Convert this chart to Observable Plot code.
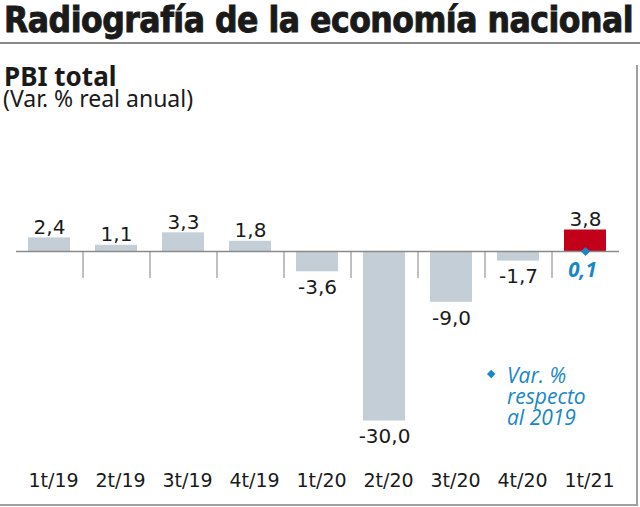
<!DOCTYPE html>
<html>
<head>
<meta charset="utf-8">
<script src="https://cdn.jsdelivr.net/npm/d3@7"></script>
<script src="https://cdn.jsdelivr.net/npm/@observablehq/plot@0.6"></script>
<style>
  html, body { margin: 0; padding: 0; background: #fff; }
  #wrap { position: relative; width: 640px; height: 507px; overflow: hidden; background: #fff; }
  #title { position: absolute; left: 4px; top: 2px; white-space: nowrap; line-height: 36px; height: 36px;
    font-family: "DejaVu Sans Condensed", "DejaVu Sans", sans-serif; font-weight: bold;
    font-size: 36px; color: #1a1a1a; transform-origin: 0 0; letter-spacing: -0.5px;
    -webkit-text-stroke: 0.9px #1a1a1a; }
  #rule { position: absolute; left: 0; top: 42px; width: 640px; height: 2px; background: #8a8a8a; }
  #box { position: absolute; left: -2px; top: 65px; width: 638px; height: 439px;
    border-right: 2px solid #a0a0a0; border-bottom: 2px solid #a0a0a0; }
  #sub1 { position: absolute; left: 4px; top: 64px; line-height: 24px; height: 24px;
    font-family: "Noto Sans", sans-serif; font-weight: bold; font-size: 26px; color: #1a1a1a; }
  #sub2 { position: absolute; left: 3px; top: 88px; line-height: 20px; height: 20px;
    font-family: "Noto Sans", sans-serif; font-size: 23px; color: #1a1a1a; white-space: nowrap; }
  #chart { position: absolute; left: 0; top: 117px; }
  #legend { position: absolute; left: 507px; top: 365px; font-family: "Open Sans", sans-serif;
    font-style: italic; font-size: 21px; color: #1787c7; }
  #legend div { height: 21px; line-height: 21px; white-space: nowrap; }
  #legend .dia { position: absolute; left: -19px; top: 6px; width: 6.4px; height: 6.4px;
    background: #1787c7; transform: rotate(45deg); }
</style>
</head>
<body>
<div id="wrap">
  <div id="title">Radiografía de la economía nacional</div>
  <div id="rule"></div>
  <div id="box"></div>
  <div id="sub1">PBI total</div>
  <div id="sub2">(Var. % real anual)</div>
  <div id="chart"></div>
  <div id="legend"><span class="dia"></span><div>Var. %</div><div>respecto</div><div>al 2019</div></div>
</div>
<script>
const quarters = ["1t/19","2t/19","3t/19","4t/19","1t/20","2t/20","3t/20","4t/20","1t/21"];
const values = [2.4, 1.1, 3.3, 1.8, -3.6, -30.0, -9.0, -1.7, 3.8];
const highlightQuarter = "1t/21";
const vs2019Quarter = ["1t/21"];
const vs2019Value = [0.1];

const data = quarters.map((q, i) => ({q, v: values[i]}));
const vsData = vs2019Quarter.map((q, i) => ({q, v: vs2019Value[i]}));
const fmt = d => d.toFixed(1).replace(".", ",");

const gray = "#c4ced6", red = "#c3001a", blue = "#1787c7", ink = "#1a1a1a";
const pos = data.filter(d => d.v >= 0), neg = data.filter(d => d.v < 0);

const chart = Plot.plot({
  width: 640,
  height: 390,
  marginLeft: 16,
  marginRight: 21,
  marginTop: 0,
  marginBottom: 37,
  style: {fontFamily: "DejaVu Sans, sans-serif", fontSize: "19px", color: ink, background: "transparent"},
  x: {domain: quarters, paddingInner: 0.373, paddingOuter: 0.1865, axis: null},
  y: {domain: [-30, 3.8], range: [303.5, 112.5], axis: null},
  marks: [
    Plot.barY(data.filter(d => d.q !== highlightQuarter), {x: "q", y: "v", fill: gray}),
    Plot.barY(data.filter(d => d.q === highlightQuarter), {x: "q", y: "v", fill: red}),
    Plot.ruleY([0], {stroke: "#8a8a8a", strokeWidth: 1.5}),
    Plot.ruleX(quarters.slice(1), {x: d => d, y1: 0, y2: 0, insetBottom: -27, dx: -33.5, stroke: "#808080", strokeWidth: 1}),
    Plot.text(pos, {x: "q", y: "v", text: d => fmt(d.v), lineAnchor: "bottom", dy: -4, fontSize: 20, fill: ink}),
    Plot.text(neg, {x: "q", y: "v", text: d => fmt(d.v), lineAnchor: "top", dy: 8, fontSize: 20, fill: ink}),
    Plot.dot(vsData, {x: "q", y: 0, symbol: "diamond2", r: 4, fill: blue, stroke: "none"}),
    Plot.text(vsData, {x: "q", y: 0, text: d => fmt(d.v), lineAnchor: "top", dy: 11, dx: -3, fontSize: 20.5,
      fontWeight: "bold", fontStyle: "italic", fontFamily: "Open Sans, sans-serif", fill: blue}),
    // category labels along the bottom
    Plot.text(quarters, {x: d => d, text: d => d, frameAnchor: "bottom", lineAnchor: "top", dy: 3, dx: 4,
      fontSize: 19, fill: ink})
  ]
});
document.getElementById("chart").appendChild(chart);

// fit title width to the frame
const t = document.getElementById("title");
const w = t.getBoundingClientRect().width;
t.style.transform = `scaleX(${629 / w})`;
</script>
</body>
</html>
